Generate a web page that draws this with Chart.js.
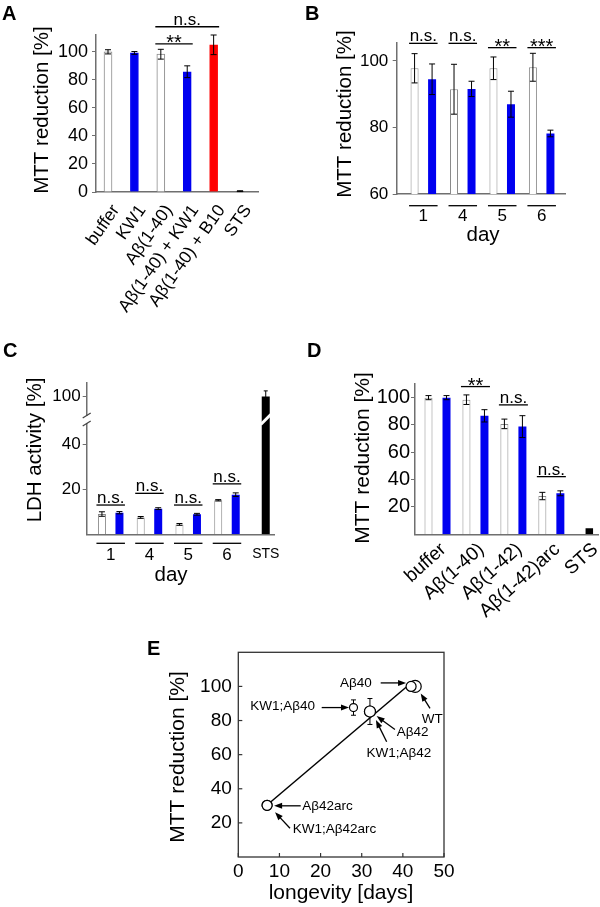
<!DOCTYPE html>
<html>
<head>
<meta charset="utf-8">
<script src="https://cdn.jsdelivr.net/npm/chart.js@4"></script>
<style>
  html, body { margin: 0; padding: 0; background: #fff; }
  body { width: 600px; height: 907px; position: relative; overflow: hidden; }
  canvas { position: absolute; left: 0; top: 0; }
</style>
</head>
<body>
<canvas id="cA" width="600" height="907"></canvas>
<canvas id="cB" width="600" height="907"></canvas>
<canvas id="cC" width="600" height="907"></canvas>
<canvas id="cD" width="600" height="907"></canvas>
<canvas id="cE" width="600" height="907"></canvas>
<script>
// ================= DATA =================
// Panel A
const catsA = ['buffer', 'KW1', 'Aβ(1-40)', 'Aβ(1-40) + KW1', 'Aβ(1-40) + B10', 'STS'];
const mttA = [100, 99.2, 98.3, 85.8, 105, 0.6];
const errA = [1.5, 1.0, 3.5, 4.2, 7.0, 0.3];
const ticksA = [0, 20, 40, 60, 80, 100];
const sigA = [
  { from: 2, to: 3, text: '**', level: 105.7 },
  { from: 2, to: 4, text: 'n.s.', level: 117.9 }
];

// Panel B
const daysB = ['1', '4', '5', '6'];
const ctrlB = [97.8, 91.5, 97.8, 98.1];
const ctrlErrB = [4.4, 7.5, 3.4, 4.2];
const kw1B = [94.5, 91.6, 87.0, 78.2];
const kw1ErrB = [4.6, 2.3, 3.9, 1.0];
const sigB = ['n.s.', 'n.s.', '**', '***'];
const sigLevelB = [105.3, 105.3, 104.0, 104.0];
const ticksB = [60, 80, 100];

// Panel C
const daysC = ['1', '4', '5', '6'];
const ctrlC = [9.0, 7.5, 4.4, 15.1];
const ctrlErrC = [1.0, 0.4, 0.4, 0.3];
const kw1C = [9.6, 11.4, 8.9, 17.6];
const kw1ErrC = [0.5, 0.4, 0.4, 0.8];
const stsLabelC = 'STS';
const stsC = 100;
const stsErrC = 2.5;
const sigC = ['n.s.', 'n.s.', 'n.s.', 'n.s.'];
const sigLevelC = [13.0, 18.2, 13.0, 22.4];
const ticksC = [20, 40, 100];
const breakC = { below: 50, shift: 38.8, mark: 51 };   // broken y axis: values above 50 drawn 38.8 lower

// Panel D
const catsD = ['buffer', 'Aβ(1-40)', 'Aβ(1-42)', 'Aβ(1-42)arc', 'STS'];
const ctrlD = [100, 98.5, 80.8, 28.0];
const ctrlErrD = [1.5, 3.5, 3.5, 2.7];
const kw1D = [100, 86.7, 78.8, 30.0];
const kw1ErrD = [1.5, 4.5, 8.0, 1.8];
const stsD = 4.4;
const sigD = ['', '**', 'n.s.', 'n.s.'];
const sigLevelD = [null, 108.1, 94.7, 42.2];
const ticksD = [20, 40, 60, 80, 100];

// Panel E
const strainsE = ['WT', 'Aβ40', 'KW1;Aβ40', 'Aβ42', 'KW1;Aβ42', 'Aβ42arc', 'KW1;Aβ42arc'];
const longevityE = [43, 42, 28, 32, 32, 7, 7];
const mttE = [100, 100, 87.6, 85.3, 85.3, 30.3, 30.3];
const mttErrE = [0, 0, 4.5, 7.6, 0, 0, 0];
const fitLongevityE = [7, 42.5];
const fitMttE = [30.5, 103];
const ticksEx = [0, 10, 20, 30, 40, 50];
const ticksEy = [20, 40, 60, 80, 100];

// ================= STYLE / LAYOUT =================
const FONT = "'Liberation Sans', Arial, Helvetica, sans-serif";
const AXIS = '#6f6f6f';
const BLUE = '#0000f0';
const RED = '#ff0000';
const EDGE = '#8a8a8a';
const fillA = ['#ffffff', BLUE, '#ffffff', BLUE, RED, '#222222'];
const edgeA = [EDGE, BLUE, EDGE, BLUE, RED, '#222222'];
const radE = [6, 5, 4, 5.5, 5.5, 5, 5];
const notesE = [ // offsets in px from the point: text anchor, arrow tail, arrow head
  { p: 0, tx: 17, ty: 33, align: 'center', a: [14.8, 22], h: [5.5, 7] },
  { p: 1, tx: -39.4, ty: -3, align: 'right', a: [-30.4, -3.5], h: [-5, -3.5] },
  { p: 2, tx: -38.5, ty: -1.7, align: 'right', a: [-31.8, 0], h: [-4.5, 0] },
  { p: 3, tx: 26.7, ty: 21, align: 'left', a: [25, 18], h: [6.7, 4.6] },
  { p: 4, tx: 29, ty: 42, align: 'center', a: [16.7, 30.3], h: [6, 8.6] },
  { p: 5, tx: 35.2, ty: 0.5, align: 'left', a: [33.6, 0.5], h: [7, 0.5] },
  { p: 6, tx: 25.6, ty: 23.7, align: 'left', a: [22.9, 23], h: [8, 7] }
];
const AREA = {
  A: { left: 96, top: 35, right: 258, bottom: 192 },
  B: { left: 396.7, top: 43, right: 565.7, bottom: 194 },
  C: { left: 86.7, top: 383, right: 274, bottom: 534.3 },
  D: { left: 415, top: 383.3, right: 598.3, bottom: 534.3 },
  E: { left: 238.3, top: 652.3, right: 444, bottom: 857 }
};

Chart.defaults.font.family = FONT;
Chart.defaults.color = '#000';
Chart.defaults.animation = false;
Chart.defaults.responsive = false;
Chart.defaults.maintainAspectRatio = false;
Chart.defaults.plugins.legend.display = false;
Chart.defaults.plugins.tooltip.enabled = false;

const yC = v => (v == null ? null : (v > breakC.below ? v - breakC.shift : v));

// ================= HELPERS =================
function txt(ctx, s, x, y, o = {}) {
  const { size = 16, bold = false, align = 'center', base = 'alphabetic', rot = 0, color = '#000' } = o;
  ctx.save();
  ctx.translate(x, y);
  if (rot) ctx.rotate(rot);
  ctx.font = (bold ? 'bold ' : '') + size + 'px ' + FONT;
  ctx.fillStyle = color;
  ctx.textAlign = align;
  ctx.textBaseline = base;
  ctx.fillText(s, 0, 0);
  ctx.restore();
}
function seg(ctx, x1, y1, x2, y2, w = 1.3, color = '#000') {
  ctx.save();
  ctx.strokeStyle = color; ctx.lineWidth = w;
  ctx.beginPath(); ctx.moveTo(x1, y1); ctx.lineTo(x2, y2); ctx.stroke();
  ctx.restore();
}
function errBars(chart, ds, vals, errs, cap = 3) {
  const ctx = chart.ctx, meta = chart.getDatasetMeta(ds), ys = chart.scales[meta.yAxisID];
  ctx.save(); ctx.strokeStyle = '#000'; ctx.lineWidth = 1;
  vals.forEach((v, i) => {
    if (v == null || !errs[i]) return;
    const el = meta.data[i]; if (!el) return;
    const x = el.x;
    const t = ys.getPixelForValue(v + errs[i]), b = ys.getPixelForValue(v - errs[i]);
    ctx.beginPath();
    ctx.moveTo(x, t); ctx.lineTo(x, b);
    ctx.moveTo(x - cap, t); ctx.lineTo(x + cap, t);
    ctx.moveTo(x - cap, b); ctx.lineTo(x + cap, b);
    ctx.stroke();
  });
  ctx.restore();
}
function bracket(chart, a, b, level, text) {
  const ctx = chart.ctx, ys = chart.scales.y;
  const ea = chart.getDatasetMeta(a[0]).data[a[1]], eb = chart.getDatasetMeta(b[0]).data[b[1]];
  const x1 = ea.x - ea.width / 2 - 1.5, x2 = eb.x + eb.width / 2 + 1.5;
  const y = ys.getPixelForValue(level);
  seg(ctx, x1, y, x2, y, 1.3);
  const star = text.indexOf('*') >= 0;
  txt(ctx, text, (x1 + x2) / 2, star ? y + 5 : y - 2, { size: star ? 20 : 17 });
}
function groupLine(chart, g, offset) {
  const ea = chart.getDatasetMeta(0).data[g], eb = chart.getDatasetMeta(1).data[g];
  const y = chart.chartArea.bottom + offset;
  seg(chart.ctx, ea.x - ea.width / 2 - 1.5, y, eb.x + eb.width / 2 + 1.5, y, 1.3);
}
function arrow(ctx, x1, y1, x2, y2) {
  const ang = Math.atan2(y2 - y1, x2 - x1), L = 8, W = 3;
  const c = Math.cos(ang), s = Math.sin(ang);
  ctx.save();
  ctx.strokeStyle = '#000'; ctx.fillStyle = '#000'; ctx.lineWidth = 1.3;
  ctx.beginPath(); ctx.moveTo(x1, y1); ctx.lineTo(x2 - L * 0.7 * c, y2 - L * 0.7 * s); ctx.stroke();
  ctx.beginPath();
  ctx.moveTo(x2, y2);
  ctx.lineTo(x2 - L * c + W * s, y2 - L * s - W * c);
  ctx.lineTo(x2 - L * c - W * s, y2 - L * s + W * c);
  ctx.closePath(); ctx.fill();
  ctx.restore();
}
function yScale(area, min, max, ticks, pad, size, values) {
  return {
    min, max,
    afterFit: s => { s.width = area.left; s.paddingTop = 0; s.paddingBottom = 0; },
    afterBuildTicks: s => { s.ticks = (values || ticks).map(v => ({ value: v })); },
    grid: { display: true, drawOnChartArea: false, drawTicks: true, tickLength: 4, color: AXIS, lineWidth: 1 },
    border: { display: true, color: AXIS, width: 1.5 },
    ticks: { padding: pad, font: { size }, color: '#000', callback: (v, i) => String(ticks[i]) }
  };
}
function xScale(area, min, max, labels, t) {
  return {
    type: 'linear', min, max, offset: false,
    afterFit: s => { s.height = 907 - area.bottom; s.paddingLeft = 0; s.paddingRight = 0; },
    afterBuildTicks: s => { s.ticks = labels.map((_, i) => ({ value: i })); },
    grid: { display: false, drawTicks: false, offset: false },
    border: { display: true, color: AXIS, width: 1.5 },
    ticks: Object.assign({ autoSkip: false, font: { size: 16 }, color: '#000', callback: (v, i) => labels[i] }, t)
  };
}
function pad(area) {
  return { padding: { left: 0, top: area.top, right: 600 - area.right, bottom: 0 } };
}
const pts = (arr, map) => arr.map((v, i) => ({ x: i, y: map ? map(v) : v }));

// ================= PANEL A =================
new Chart(document.getElementById('cA'), {
  type: 'bar',
  data: { datasets: [{
    data: pts(mttA), backgroundColor: fillA, borderColor: edgeA, borderWidth: 1, barThickness: 8
  }] },
  options: {
    layout: pad(AREA.A),
    scales: {
      x: xScale(AREA.A, -0.4545, 5.68, catsA, { padding: 9, minRotation: 55, maxRotation: 55, labelOffset: 8, font: { size: 17.5 } }),
      y: yScale(AREA.A, 0, 112, ticksA, 4, 18)
    }
  },
  plugins: [{
    id: 'decorA',
    afterDatasetsDraw(chart) {
      errBars(chart, 0, mttA, errA);
      sigA.forEach(s => bracket(chart, [0, s.from], [0, s.to], s.level, s.text));
    },
    afterDraw(chart) {
      const ctx = chart.ctx;
      txt(ctx, 'A', 2, 20, { size: 20, bold: true, align: 'left' });
      txt(ctx, 'MTT reduction [%]', 42, 110, { size: 20.5, rot: -Math.PI / 2, base: 'middle' });
    }
  }]
});

// ================= PANEL B =================
new Chart(document.getElementById('cB'), {
  type: 'bar',
  data: { datasets: [
    { data: pts(ctrlB), backgroundColor: '#ffffff', borderColor: EDGE, borderWidth: 1,
      categoryPercentage: 0.888, barPercentage: 0.457 },
    { data: pts(kw1B), backgroundColor: BLUE, borderWidth: 0,
      categoryPercentage: 0.888, barPercentage: 0.457 }
  ] },
  options: {
    layout: pad(AREA.B),
    scales: {
      x: xScale(AREA.B, -0.675, 3.609, daysB, { padding: 12, font: { size: 17 } }),
      y: yScale(AREA.B, 60, 105.4, ticksB, 4.4, 17)
    }
  },
  plugins: [{
    id: 'decorB',
    afterDatasetsDraw(chart) {
      errBars(chart, 0, ctrlB, ctrlErrB);
      errBars(chart, 1, kw1B, kw1ErrB);
      daysB.forEach((d, g) => {
        bracket(chart, [0, g], [1, g], sigLevelB[g], sigB[g]);
        groupLine(chart, g, 11.7);
      });
    },
    afterDraw(chart) {
      const ctx = chart.ctx;
      txt(ctx, 'B', 305, 20, { size: 20, bold: true, align: 'left' });
      txt(ctx, 'MTT reduction [%]', 345, 114, { size: 20.5, rot: -Math.PI / 2, base: 'middle' });
      txt(ctx, 'day', 483, 235, { size: 20.5, base: 'middle' });
    }
  }]
});

// ================= PANEL C =================
const labelsC = daysC.concat([stsLabelC]);
const nullsC = daysC.map(() => null);
new Chart(document.getElementById('cC'), {
  type: 'bar',
  data: { datasets: [
    { data: pts(ctrlC.concat([null])), backgroundColor: '#ffffff', borderColor: EDGE, borderWidth: 1,
      categoryPercentage: 0.903, barPercentage: 0.457, skipNull: true },
    { data: pts(kw1C.concat([null])), backgroundColor: BLUE, borderWidth: 0,
      categoryPercentage: 0.903, barPercentage: 0.457, skipNull: true },
    { data: pts(nullsC.concat([stsC]), yC), backgroundColor: '#000', borderWidth: 0,
      categoryPercentage: 0.903, barPercentage: 0.457, maxBarThickness: 8, skipNull: true }
  ] },
  options: {
    layout: pad(AREA.C),
    scales: {
      x: xScale(AREA.C, -0.619, 4.213, labelsC, {
        padding: 11,
        font: ctx => ({ size: ctx.index === 4 ? 14 : 17 })
      }),
      y: yScale(AREA.C, 0, 67.2, ticksC, 2, 17, ticksC.map(yC))
    }
  },
  plugins: [{
    id: 'decorC',
    afterDatasetsDraw(chart) {
      errBars(chart, 0, ctrlC, ctrlErrC);
      errBars(chart, 1, kw1C, kw1ErrC);
      errBars(chart, 2, nullsC.concat([yC(stsC)]), nullsC.concat([stsErrC]), 2);
      daysC.forEach((d, g) => {
        bracket(chart, [0, g], [1, g], sigLevelC[g], sigC[g]);
        groupLine(chart, g, 9);
      });
    },
    afterDraw(chart) {
      const ctx = chart.ctx, ys = chart.scales.y, a = chart.chartArea;
      const yb = ys.getPixelForValue(breakC.mark);
      // break on the y axis
      ctx.save();
      ctx.fillStyle = '#fff';
      ctx.fillRect(a.left - 2, yb - 3.5, 4, 7);
      ctx.restore();
      seg(ctx, a.left - 4, yb - 1.5, a.left + 4, yb - 6.5, 1.3, '#444');
      seg(ctx, a.left - 4, yb + 6.5, a.left + 4, yb + 1.5, 1.3, '#444');
      // break on the STS bar
      const el = chart.getDatasetMeta(2).data[4];
      seg(ctx, el.x - el.width / 2 - 1, yb + 5, el.x + el.width / 2 + 1, yb - 5, 3, '#fff');
      txt(ctx, 'C', 3, 357, { size: 20, bold: true, align: 'left' });
      txt(ctx, 'LDH activity [%]', 35, 450, { size: 20.5, rot: -Math.PI / 2, base: 'middle' });
      txt(ctx, 'day', 171, 575, { size: 20.5, base: 'middle' });
    }
  }]
});

// ================= PANEL D =================
const nullsD = ctrlD.map(() => null);
new Chart(document.getElementById('cD'), {
  type: 'bar',
  data: { datasets: [
    { data: pts(ctrlD.concat([null])), backgroundColor: '#ffffff', borderColor: EDGE, borderWidth: 1,
      categoryPercentage: 0.949, barPercentage: 0.444, skipNull: true },
    { data: pts(kw1D.concat([null])), backgroundColor: BLUE, borderWidth: 0,
      categoryPercentage: 0.949, barPercentage: 0.444, skipNull: true },
    { data: pts(nullsD.concat([stsD])), backgroundColor: '#000', borderWidth: 0,
      categoryPercentage: 0.949, barPercentage: 0.444, maxBarThickness: 7.5, skipNull: true }
  ] },
  options: {
    layout: pad(AREA.D),
    scales: {
      x: xScale(AREA.D, -0.593, 4.237, catsD, { padding: 4, minRotation: 42, maxRotation: 42, labelOffset: 6, font: { size: 19 } }),
      y: yScale(AREA.D, 0, 110.5, ticksD, 1, 20)
    }
  },
  plugins: [{
    id: 'decorD',
    afterDatasetsDraw(chart) {
      errBars(chart, 0, ctrlD, ctrlErrD);
      errBars(chart, 1, kw1D, kw1ErrD);
      sigD.forEach((s, g) => { if (s) bracket(chart, [0, g], [1, g], sigLevelD[g], s); });
    },
    afterDraw(chart) {
      const ctx = chart.ctx;
      txt(ctx, 'D', 307, 357, { size: 20, bold: true, align: 'left' });
      txt(ctx, 'MTT reduction [%]', 363, 458, { size: 21, rot: -Math.PI / 2, base: 'middle' });
    }
  }]
});

// ================= PANEL E =================
new Chart(document.getElementById('cE'), {
  type: 'scatter',
  data: { datasets: [
    { data: longevityE.map((x, i) => ({ x, y: mttE[i] })), showLine: false,
      pointRadius: radE, pointBackgroundColor: '#fff', pointBorderColor: '#000', pointBorderWidth: 1.2 },
    { data: fitLongevityE.map((x, i) => ({ x, y: fitMttE[i] })), showLine: true,
      borderColor: '#000', borderWidth: 1.5, pointRadius: 0, fill: false }
  ] },
  options: {
    layout: pad(AREA.E),
    scales: {
      x: {
        type: 'linear', min: 0, max: 50,
        afterFit: s => { s.height = 907 - AREA.E.bottom; s.paddingLeft = 0; s.paddingRight = 0; },
        afterBuildTicks: s => { s.ticks = ticksEx.map(v => ({ value: v })); },
        grid: { display: false, drawTicks: false }, border: { display: false },
        ticks: { padding: 3, font: { size: 19 }, color: '#000', callback: (v, i) => String(ticksEx[i]) }
      },
      y: {
        type: 'linear', min: 0, max: 120,
        afterFit: s => { s.width = AREA.E.left; s.paddingTop = 0; s.paddingBottom = 0; },
        afterBuildTicks: s => { s.ticks = ticksEy.map(v => ({ value: v })); },
        grid: { display: false, drawTicks: false }, border: { display: false },
        ticks: { padding: 6.5, font: { size: 19 }, color: '#000', callback: (v, i) => String(ticksEy[i]) }
      }
    }
  },
  plugins: [{
    id: 'decorE',
    beforeDatasetsDraw(chart) {
      errBars(chart, 0, mttE, mttErrE, 2.5);
    },
    afterDraw(chart) {
      const ctx = chart.ctx, a = chart.chartArea, xs = chart.scales.x, ys = chart.scales.y;
      ctx.save();
      ctx.strokeStyle = '#333'; ctx.lineWidth = 1.3;
      ctx.strokeRect(a.left, a.top, a.right - a.left, a.bottom - a.top);
      ctx.restore();
      ticksEx.forEach(v => { const x = xs.getPixelForValue(v); seg(ctx, x, a.bottom, x, a.bottom - 4, 1.2, '#333'); });
      ticksEy.forEach(v => { const y = ys.getPixelForValue(v); seg(ctx, a.left, y, a.left + 4, y, 1.2, '#333'); });
      const meta = chart.getDatasetMeta(0);
      notesE.forEach(n => {
        const el = meta.data[n.p];
        txt(ctx, strainsE[n.p], el.x + n.tx, el.y + n.ty, { size: 13.5, align: n.align, base: 'middle' });
        arrow(ctx, el.x + n.a[0], el.y + n.a[1], el.x + n.h[0], el.y + n.h[1]);
      });
      txt(ctx, 'E', 147, 655, { size: 20, bold: true, align: 'left' });
      txt(ctx, 'MTT reduction [%]', 178, 757, { size: 21, rot: -Math.PI / 2, base: 'middle' });
      txt(ctx, 'longevity [days]', 341, 893, { size: 21, base: 'middle' });
    }
  }]
});
</script>
</body>
</html>
